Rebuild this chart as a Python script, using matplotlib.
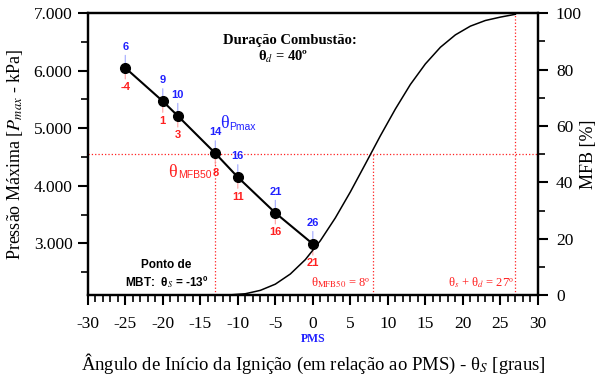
import matplotlib
matplotlib.use("Agg")
import matplotlib.pyplot as plt
from matplotlib.ticker import MultipleLocator, FuncFormatter

plt.rcParams["font.family"] = ["Liberation Serif", "DejaVu Serif"]
plt.rcParams["mathtext.fontset"] = "stix"
plt.rcParams["axes.unicode_minus"] = False

# ignition advance (theta_s) and max pressure
theta_s = [-25, -20, -18, -13, -10, -5, 0]
p_max = [6050, 5470, 5215, 4565, 4150, 3530, 2990]
theta_pmax = [6, 9, 10, 14, 16, 21, 26]
theta_mfb50 = [-4, 1, 3, 8, 11, 16, 21]

# mass fraction burned curve
mfb_x = [-13, -11, -9, -7, -5, -3, -1, 1, 3, 5, 7, 9, 11, 13, 15, 17, 19, 21, 23, 25, 27]
mfb_y = [0, 0.1, 0.5, 1.7, 3.9, 7.5, 12.6, 19.3, 27.4, 36.6, 46.5, 56.5, 66.0,
         74.7, 82.0, 87.9, 92.3, 95.4, 97.4, 98.6, 99.6]

mbt = -13
mfb50_mbt = 8
end_comb = 27
p_at_mbt = 4560

fig = plt.figure(figsize=(5.97, 3.76), dpi=100)
ax = fig.add_axes([0.147, 0.215, 0.754, 0.75])
ax2 = ax.twinx()

red = "#ff2020"
blue = "#2020ff"

# reference lines
ax.axhline(p_at_mbt, color=red, ls=":", lw=0.9, zorder=1)
ax.plot([mbt, mbt], [2100, p_at_mbt], color=red, ls=":", lw=0.9, zorder=1)
ax.plot([mfb50_mbt, mfb50_mbt], [2100, p_at_mbt], color=red, ls=":", lw=0.9, zorder=1)
ax.plot([end_comb, end_comb], [2100, 7000], color=red, ls=":", lw=0.9, zorder=1)

ax.plot(theta_s, p_max, color="black", lw=1.5, marker="o", ms=7, zorder=4)

for x, y, tb, tr in zip(theta_s, p_max, theta_pmax, theta_mfb50):
    ax.annotate("", xy=(x, y), xytext=(0, 11), textcoords="offset points",
                arrowprops=dict(arrowstyle="-", color="#a0a8ff", lw=0.8), zorder=2)
    ax.annotate("", xy=(x, y), xytext=(0, -10), textcoords="offset points",
                arrowprops=dict(arrowstyle="-", color="#ffa0a0", lw=0.8), zorder=2)
    ax.annotate(str(tb), xy=(x, y), xytext=(0, 15), textcoords="offset points",
                ha="center", va="center", color=blue, fontsize=8,
                fontweight="bold", family="Liberation Sans")
    ax.annotate(str(tr), xy=(x, y), xytext=(0, -14), textcoords="offset points",
                ha="center", va="center", color=red, fontsize=8,
                fontweight="bold", family="Liberation Sans")

ax2.plot(mfb_x, mfb_y, color="black", lw=1.1)

ax.set_xlim(-30, 30)
ax.set_ylim(2100, 7000)
ax2.set_ylim(0, 100)

ax.xaxis.set_major_locator(MultipleLocator(5))
ax.xaxis.set_minor_locator(MultipleLocator(1))
ax.yaxis.set_minor_locator(MultipleLocator(500))
ax.set_yticks([3000, 4000, 5000, 6000, 7000])
ax.yaxis.set_major_formatter(FuncFormatter(lambda v, p: f"{v / 1000:.3f}"))
ax2.yaxis.set_major_locator(MultipleLocator(20))
ax2.yaxis.set_minor_locator(MultipleLocator(10))

for a in (ax, ax2):
    for s in a.spines.values():
        s.set_linewidth(1.6)
    a.tick_params(which="major", direction="out", length=7, width=1.5, labelsize=12.5)
    a.tick_params(which="minor", direction="out", length=5, width=1.2)
ax.tick_params(axis="x", pad=8)
ax.tick_params(axis="y", pad=4)
ax2.tick_params(axis="y", pad=6)
ax.tick_params(top=False, which="both")

ax.set_xlabel("Ângulo de Início da Ignição (em relação ao PMS) - θ$_S$ [graus]",
              fontsize=13.5)
ax.xaxis.set_label_coords(0.5, -0.2)
ax.set_ylabel("Pressão Máxima [$P_{max}$ - kPa]", fontsize=13, labelpad=6)
ax2.set_ylabel("MFB [%]", fontsize=13)
ax2.yaxis.set_label_coords(1.093, 0.5)

ax.text(0, -0.155, "PMS", transform=ax.get_xaxis_transform(), ha="center",
        va="center", color=blue, fontsize=8.5, fontweight="bold")

# annotations
ax.text(-3.0, 6530, "Duração Combustão:", ha="center", va="center",
        fontsize=10.5, fontweight="bold")
ax.text(-4.0, 6235, "θ$_d$ = 40º", ha="center", va="center",
        fontsize=10.5, fontweight="bold")
ax.text(-19.6, 2625, "Ponto de", ha="center", va="center", fontsize=8.5,
        fontweight="bold", family="Liberation Sans")
ax.text(-19.5, 2330, "MBT:  θ$_S$ = -13º", ha="center", va="center",
        fontsize=8.5, fontweight="bold", family="Liberation Sans")
ax.text(-12.4, 5090, "θ", ha="left", va="center", color=blue, fontsize=13)
ax.text(-11.1, 5030, "Pmax", ha="left", va="center", color=blue, fontsize=7.5,
        family="Liberation Sans")
ax.text(-19.3, 4240, "θ", ha="left", va="center", color=red, fontsize=13)
ax.text(-18.0, 4180, "MFB50", ha="left", va="center", color=red, fontsize=7.5,
        family="Liberation Sans")
ax.text(7.7, 2310, "θ$_{\\rm MFB50}$ = 8º", ha="right", va="center",
        color=red, fontsize=9)
ax.text(26.8, 2310, "θ$_s$ + θ$_d$ = 27º", ha="right", va="center",
        color=red, fontsize=9)

fig.savefig("out.png", dpi=100)
